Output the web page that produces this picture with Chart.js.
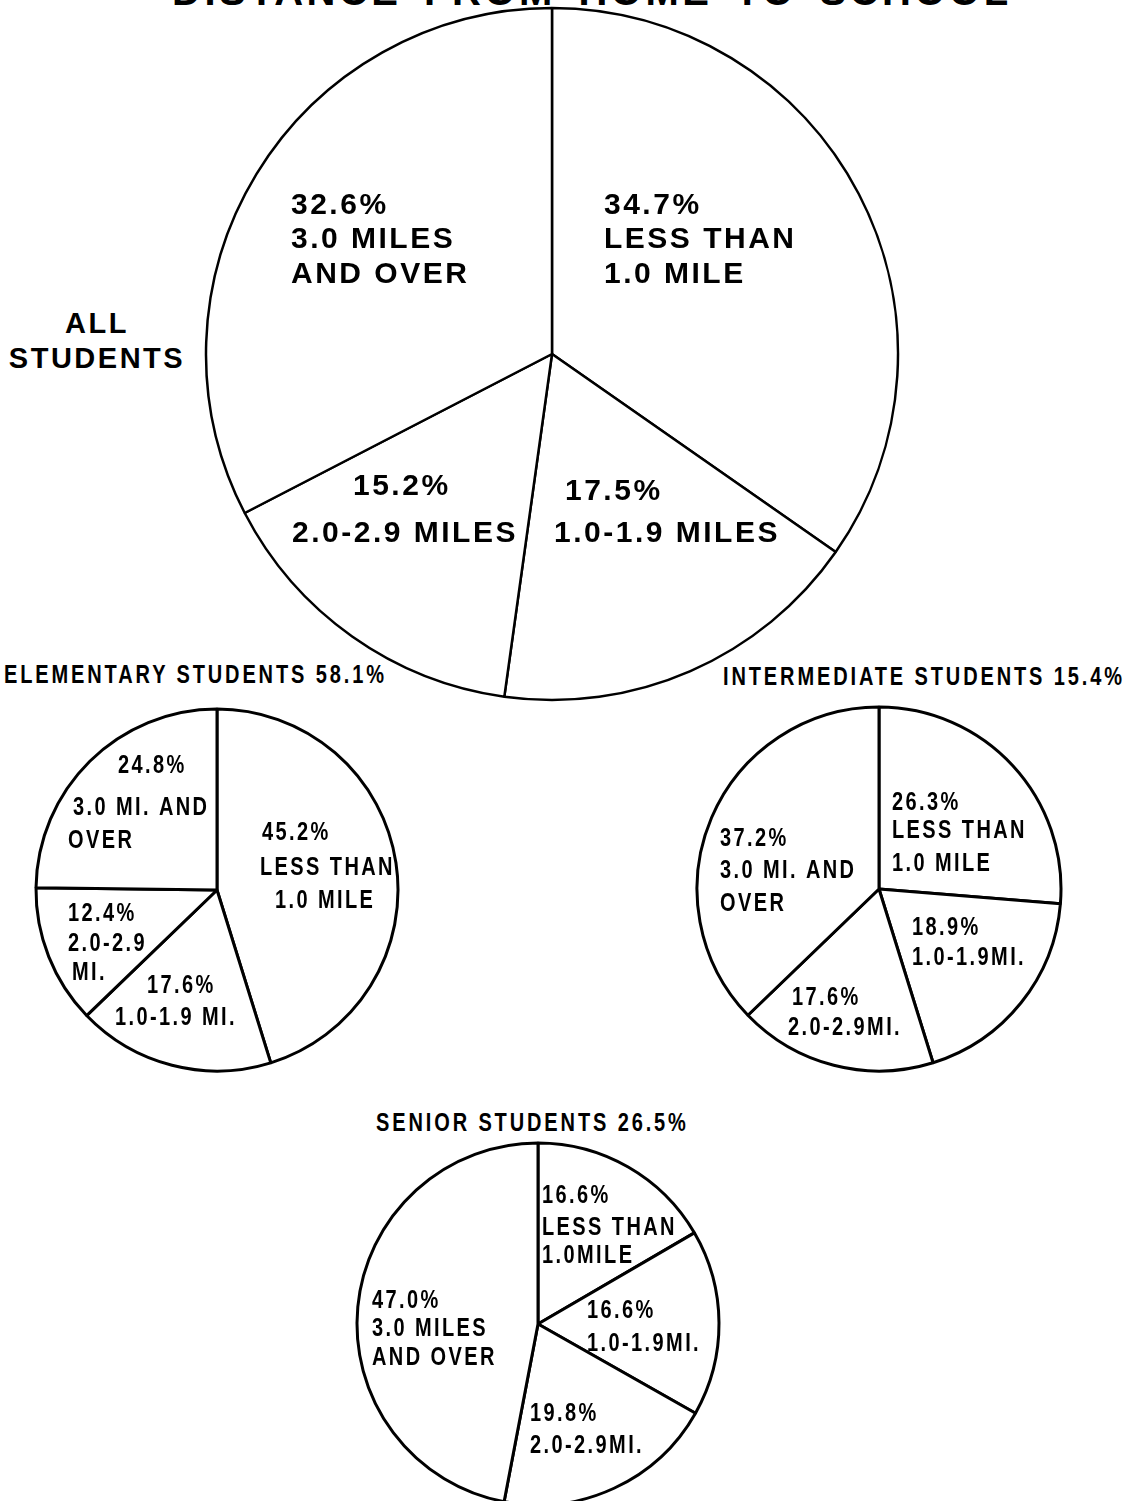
<!DOCTYPE html>
<html>
<head>
<meta charset="utf-8">
<title>Distance from home to school</title>
<script src="https://cdn.jsdelivr.net/npm/chart.js@4"></script>
<style>
  body { margin: 0; background: #fff; width: 1134px; height: 1501px; position: relative; overflow: hidden;
         font-family: "Liberation Sans", Arial, sans-serif; color: #000; }
  canvas, .txt { position: absolute; }
  .txt { white-space: nowrap; font-weight: bold; }
  .big { font-size: 40px; line-height: 40px; letter-spacing: 3.5px; word-spacing: 8px; }
  .group { font-size: 29px; line-height: 35px; letter-spacing: 2.5px; text-align: center; }
  .small { font-size: 25px; line-height: 25px; letter-spacing: 3.6px; transform: scaleX(0.8); transform-origin: 0 0; }
</style>
</head>
<body>
<div class="txt big" style="left:172px; top:-29px;">DISTANCE FROM HOME TO SCHOOL</div>
<div class="txt group" style="left:0; width:194px; top:306px;">ALL<br>STUDENTS</div>
<div class="txt small" id="t0" style="left:4px; top:662px;"></div>
<div class="txt small" id="t1" style="left:723px; top:664px;"></div>
<div class="txt small" id="t2" style="left:376px; top:1110px;"></div>

<canvas id="all" width="700" height="700" style="left:202px; top:4px;"></canvas>
<canvas id="elem" width="370" height="370" style="left:32px; top:705px;"></canvas>
<canvas id="inter" width="372" height="372" style="left:693px; top:703px;"></canvas>
<canvas id="senior" width="370" height="370" style="left:353px; top:1139px;"></canvas>

<script>
// distance bands, clockwise from 12 o'clock
const distanceBands = ['Less than 1.0 mile', '1.0-1.9 miles', '2.0-2.9 miles', '3.0 miles and over'];

// percent of students in each band
const allStudents = [34.7, 17.5, 15.2, 32.6];
const elementary = [45.2, 17.6, 12.4, 24.8];
const intermediate = [26.3, 18.9, 17.6, 37.2];
const senior = [16.6, 16.6, 19.8, 47.0];

// share of all students for each level
const groupNames = ['ELEMENTARY STUDENTS', 'INTERMEDIATE STUDENTS', 'SENIOR STUDENTS'];
const groupShares = [58.1, 15.4, 26.5];

// wording printed under the percentage, as in the original
const allWords = [['LESS THAN', '1.0 MILE'], ['1.0-1.9 MILES'], ['2.0-2.9 MILES'], ['3.0 MILES', 'AND OVER']];
const elemWords = [['LESS THAN', '1.0 MILE'], ['1.0-1.9 MI.'], ['2.0-2.9', 'MI.'], ['3.0 MI. AND', 'OVER']];
const interWords = [['LESS THAN', '1.0 MILE'], ['1.0-1.9MI.'], ['2.0-2.9MI.'], ['3.0 MI. AND', 'OVER']];
const seniorWords = [['LESS THAN', '1.0MILE'], ['1.0-1.9MI.'], ['2.0-2.9MI.'], ['3.0 MILES', 'AND OVER']];

// where each text line starts (top left of capitals), relative to the pie centre
const allSpots = [
  [[52, -161], [52, -127], [52, -92]],
  [[13, 125], [2, 167]],
  [[-199, 120], [-260, 167]],
  [[-261, -161], [-261, -127], [-261, -92]]
];
const elemSpots = [
  [[45, -68], [43, -33], [58, 0]],
  [[-70, 85], [-102, 117]],
  [[-149, 13], [-149, 43], [-145, 72]],
  [[-99, -135], [-144, -93], [-149, -60]]
];
const interSpots = [
  [[13, -97], [13, -69], [13, -36]],
  [[33, 28], [33, 58]],
  [[-87, 98], [-91, 128]],
  [[-159, -61], [-159, -29], [-159, 4]]
];
const seniorSpots = [
  [[4, -139], [4, -107], [4, -79]],
  [[49, -24], [49, 9]],
  [[-8, 79], [-8, 111]],
  [[-166, -34], [-166, -6], [-166, 23]]
];

groupNames.forEach((name, i) => {
  document.getElementById('t' + i).textContent = name + ' ' + groupShares[i].toFixed(1) + '%';
});

const sliceText = {
  id: 'sliceText',
  afterDatasetsDraw(chart, args, o) {
    const ctx = chart.ctx;
    const values = chart.data.datasets[0].data;
    ctx.save();
    ctx.fillStyle = '#000';
    ctx.font = 'bold ' + o.size + 'px "Liberation Sans", Arial, sans-serif';
    ctx.letterSpacing = o.spacing + 'px';
    ctx.textAlign = 'left';
    ctx.textBaseline = 'alphabetic';
    chart.getDatasetMeta(0).data.forEach((arc, i) => {
      const lines = [values[i].toFixed(1) + '%'].concat(o.words[i]);
      lines.forEach((t, j) => {
        const [dx, dy] = o.spots[i][j];
        ctx.save();
        ctx.translate(arc.x + dx, arc.y + dy + o.size * 0.716);
        ctx.scale(o.squeeze, 1);
        ctx.fillText(t, 0, 0);
        ctx.restore();
      });
    });
    ctx.restore();
  }
};

function makePie(id, values, words, spots, r, line, size, spacing, squeeze) {
  return new Chart(document.getElementById(id), {
    type: 'pie',
    data: {
      labels: distanceBands,
      datasets: [{
        data: values,
        backgroundColor: '#ffffff',
        borderColor: '#000000',
        borderWidth: line,
        radius: r
      }]
    },
    options: {
      responsive: false,
      animation: false,
      events: [],
      devicePixelRatio: 1,
      layout: { padding: 0 },
      plugins: {
        legend: { display: false },
        tooltip: { enabled: false },
        sliceText: { words: words, spots: spots, size: size, spacing: spacing, squeeze: squeeze }
      }
    },
    plugins: [sliceText]
  });
}

makePie('all', allStudents, allWords, allSpots, 346, 2.5, 30, 2.5, 1);
makePie('elem', elementary, elemWords, elemSpots, 181, 3, 25, 3, 0.8);
makePie('inter', intermediate, interWords, interSpots, 182, 3, 25, 3, 0.8);
makePie('senior', senior, seniorWords, seniorSpots, 181, 3, 25, 3, 0.8);
</script>
</body>
</html>
